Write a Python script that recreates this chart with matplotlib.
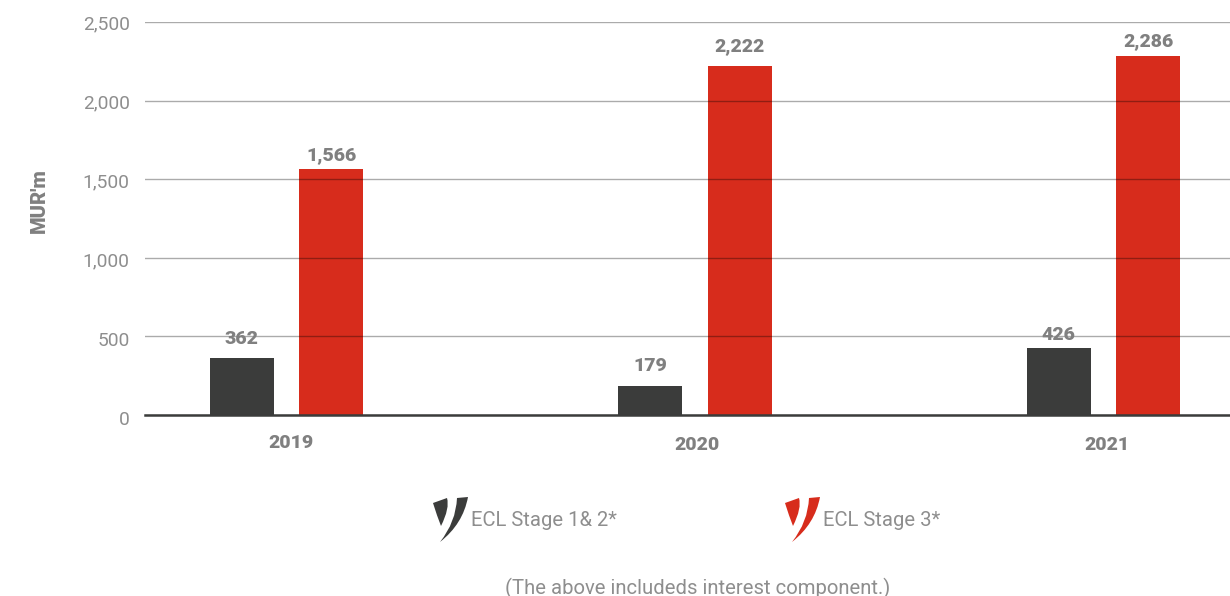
import numpy as np
import matplotlib
matplotlib.use('Agg')
import matplotlib.pyplot as plt
from matplotlib.path import Path
from matplotlib.patches import PathPatch
from matplotlib.transforms import ScaledTranslation

plt.rcParams['font.family'] = ['Roboto', 'DejaVu Sans']

years = ['2019', '2020', '2021']
stage_12 = [362, 179, 426]
stage_3 = [1566, 2222, 2286]
y_ticks = [0, 500, 1000, 1500, 2000, 2500]
legend_names = ['ECL Stage 1& 2*', 'ECL Stage 3*']
note = '(The above includeds interest component.)'

DARK = '#3b3c3b'
RED = '#d72c1c'
TEXT = '#8e8e8e'
BOLD = '#808080'
W, H = 1230, 596

fig = plt.figure(figsize=(W / 100, H / 100), dpi=100)
ax = fig.add_axes([145 / W, 1 - 414.5 / H, (W - 145) / W, 392 / H])

x = np.arange(len(years))
bar_w = 0.157
bars1 = ax.bar(x - 0.109, stage_12, bar_w, color=DARK, zorder=2)
bars2 = ax.bar(x + 0.110, stage_3, bar_w, color=RED, zorder=2)

ax.set_xlim(-0.3455, 2.3105)
ax.set_ylim(0, 2500)
ax.set_yticks(y_ticks)
ax.set_yticklabels(['{:,}'.format(v) for v in y_ticks], fontsize=13.8, color=TEXT)
ax.tick_params(axis='y', length=0, pad=11)
ax.tick_params(axis='x', length=0, labelbottom=False)
# the lower y labels hang a little below their gridlines
label_drops = [2.2, 2.2, 1.4, 0.7, 0, 0]
for lab, drop in zip(ax.get_yticklabels(), label_drops):
    lab.set_transform(lab.get_transform() + ScaledTranslation(0, -drop / 72, fig.dpi_scale_trans))

# gridlines sit over the bars and darken them slightly
ax.yaxis.grid(True, color='black', alpha=0.33, lw=1, zorder=3)
ax.set_axisbelow(False)
for s in ['top', 'right', 'left']:
    ax.spines[s].set_visible(False)
ax.spines['bottom'].set_color(DARK)
ax.spines['bottom'].set_linewidth(1.8)
ax.spines['bottom'].set_zorder(4)

# label gaps above each bar, in points
gaps_12 = [6.8, 8.3, 2.5]
gaps_3 = [3.2, 7.6, 4.0]
for bars, gaps in ((bars1, gaps_12), (bars2, gaps_3)):
    for b, gap in zip(bars, gaps):
        ax.annotate('{:,}'.format(int(b.get_height())),
                    (b.get_x() + b.get_width() / 2, b.get_height()),
                    xytext=(0, gap), textcoords='offset points', ha='center', va='bottom',
                    fontsize=14, fontweight='black', color=BOLD, zorder=5)

# pixel overlay for the year labels, legend and footnote
ov = fig.add_axes([0, 0, 1, 1], zorder=10)
ov.set_xlim(0, W)
ov.set_ylim(H, 0)
ov.axis('off')

for name, px, py in zip(years, [291, 697, 1107], [443, 445, 445]):
    ov.text(px, py, name, ha='center', va='center', fontsize=14,
            fontweight='black', color=BOLD)


def swoosh(dx, color):
    # two curved shards that make up the legend key
    left = Path([(433, 503), (447, 498), (450, 508), (441, 526), (437, 516), (433, 503), (433, 503)],
                [Path.MOVETO, Path.LINETO, Path.CURVE3, Path.LINETO, Path.CURVE3, Path.LINETO, Path.CLOSEPOLY])
    right = Path([(457, 498), (468, 497), (463, 524), (440, 542), (456, 522), (457, 498), (457, 498)],
                 [Path.MOVETO, Path.LINETO, Path.CURVE3, Path.CURVE3, Path.CURVE3, Path.CURVE3, Path.CLOSEPOLY])
    for p in (left, right):
        verts = p.vertices + np.array([dx, 0])
        ov.add_patch(PathPatch(Path(verts, p.codes), facecolor=color, edgecolor='none'))


swoosh(0, DARK)
swoosh(352, RED)

ov.text(471, 521, legend_names[0], ha='left', va='center', fontsize=14.6, color=TEXT)
ov.text(823, 521, legend_names[1], ha='left', va='center', fontsize=14.6, color=TEXT)
ov.text(698, 588, note, ha='center', va='center', fontsize=14.6, color=TEXT)
ov.text(39, 201, "MUR'm", rotation=90, ha='center', va='center', fontsize=14.5,
        fontweight='black', color=BOLD)

fig.savefig('out.png', dpi=100)
